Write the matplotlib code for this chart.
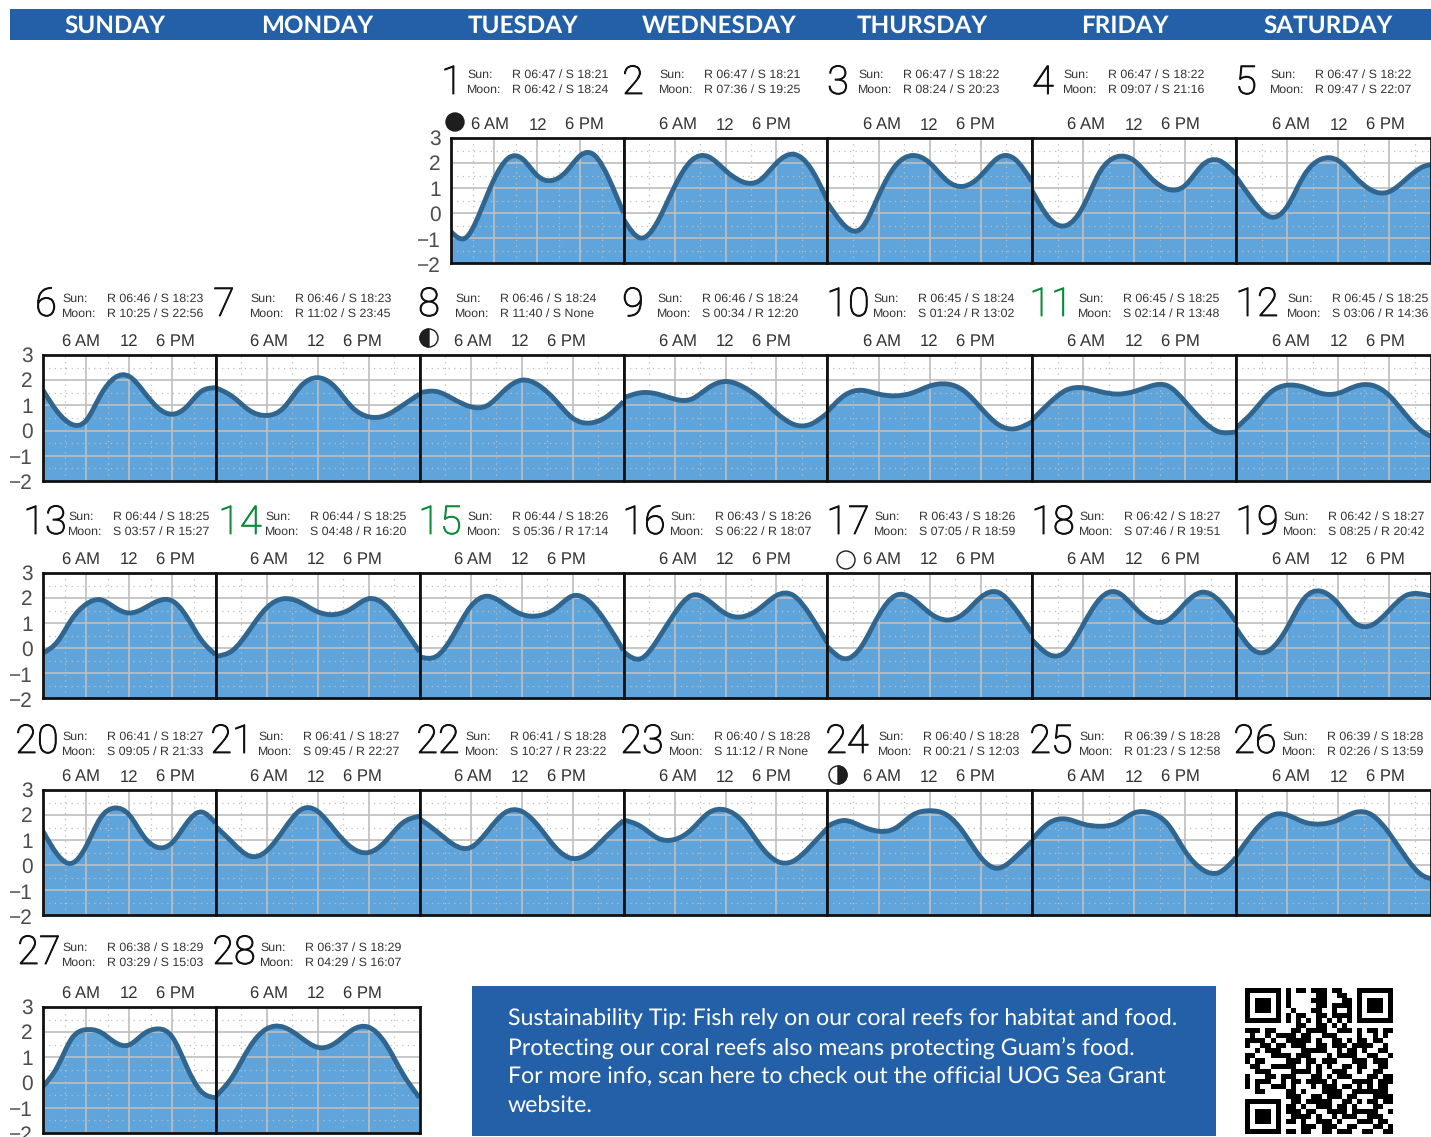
"""
Calendario de mareas de Guam (febrero): paneles por dia con curva de marea,
datos de sol/luna, consejo de sustentabilidad y codigo QR.
"""

import matplotlib
matplotlib.use('Agg')
import matplotlib.patheffects as pe
import matplotlib.pyplot as plt
import numpy as np
from matplotlib.patches import Circle, PathPatch, Rectangle, Wedge
from matplotlib.path import Path

# ============================================================================
# DATOS
# ============================================================================

weekdays = ['SUNDAY', 'MONDAY', 'TUESDAY', 'WEDNESDAY', 'THURSDAY', 'FRIDAY', 'SATURDAY']

# Altura de marea cada 2 horas (0h a 24h), un renglon por dia
tide_row1 = [
    [-0.75, -1.0, 0.0, 1.35, 2.2, 2.15, 1.5, 1.3, 1.65, 2.3, 2.3, 1.35, 0.0],
    [-0.25, -1.0, -0.35, 1.05, 2.1, 2.25, 1.7, 1.25, 1.3, 2.0, 2.35, 1.8, 0.5],
    [0.4, -0.5, -0.6, 0.7, 1.9, 2.3, 2.0, 1.3, 1.07, 1.5, 2.2, 2.15, 1.25],
    [0.9, -0.2, -0.5, 0.25, 1.65, 2.25, 2.1, 1.4, 0.95, 1.1, 1.9, 2.1, 1.55],
    [1.45, 0.5, -0.15, 0.25, 1.5, 2.15, 2.1, 1.45, 0.9, 0.85, 1.35, 1.85, 1.95],
]
tide_row2 = [
    [1.6, 0.75, 0.25, 0.4, 1.4, 2.1, 2.15, 1.55, 0.9, 0.65, 0.95, 1.55, 1.7],
    [1.7, 1.35, 0.8, 0.6, 0.9, 1.75, 2.1, 1.75, 0.95, 0.55, 0.6, 1.0, 1.45],
    [1.5, 1.55, 1.25, 0.95, 1.0, 1.6, 2.0, 1.8, 1.2, 0.5, 0.3, 0.55, 1.15],
    [1.3, 1.5, 1.45, 1.25, 1.25, 1.7, 1.95, 1.75, 1.3, 0.7, 0.25, 0.25, 0.7],
    [0.75, 1.4, 1.6, 1.45, 1.38, 1.5, 1.77, 1.85, 1.58, 0.9, 0.25, 0.07, 0.35],
    [0.42, 1.08, 1.6, 1.7, 1.55, 1.45, 1.55, 1.77, 1.77, 1.15, 0.42, -0.05, -0.05],
    [0.1, 0.75, 1.5, 1.8, 1.72, 1.48, 1.48, 1.75, 1.8, 1.4, 0.62, -0.05, -0.35],
]
tide_row3 = [
    [-0.2, 0.25, 1.15, 1.75, 1.93, 1.62, 1.4, 1.58, 1.88, 1.88, 1.25, 0.33, -0.26],
    [-0.33, -0.1, 0.72, 1.6, 1.97, 1.82, 1.45, 1.34, 1.58, 1.97, 1.7, 0.85, -0.15],
    [-0.35, -0.33, 0.53, 1.65, 2.07, 1.75, 1.35, 1.29, 1.58, 2.08, 1.85, 1.0, -0.1],
    [-0.15, -0.43, 0.33, 1.38, 2.1, 1.9, 1.38, 1.25, 1.58, 2.1, 2.1, 1.3, 0.2],
    [0.05, -0.43, 0.07, 1.3, 2.1, 1.97, 1.4, 1.12, 1.38, 2.03, 2.23, 1.58, 0.6],
    [0.33, -0.26, -0.13, 0.92, 1.97, 2.23, 1.65, 1.1, 1.12, 1.78, 2.23, 1.9, 1.05],
    [0.8, -0.07, -0.07, 0.8, 1.97, 2.27, 1.78, 1.0, 0.92, 1.5, 2.1, 2.15, 2.0],
]
tide_row4 = [
    [1.35, 0.42, 0.07, 0.75, 1.88, 2.28, 2.0, 1.15, 0.7, 0.9, 1.68, 2.12, 1.68],
    [1.55, 0.9, 0.36, 0.56, 1.4, 2.2, 2.15, 1.4, 0.7, 0.5, 0.95, 1.68, 1.95],
    [1.85, 1.35, 0.82, 0.7, 1.35, 2.08, 2.15, 1.55, 0.7, 0.26, 0.5, 1.15, 1.78],
    [1.8, 1.55, 1.08, 1.02, 1.42, 2.08, 2.2, 1.75, 0.82, 0.16, 0.16, 0.75, 1.48],
    [1.55, 1.78, 1.55, 1.35, 1.48, 2.0, 2.17, 2.0, 1.28, 0.3, -0.13, 0.3, 0.95],
    [1.02, 1.68, 1.84, 1.64, 1.55, 1.68, 2.08, 2.08, 1.62, 0.56, -0.17, -0.3, 0.3],
    [0.36, 1.28, 1.95, 2.0, 1.72, 1.64, 1.8, 2.1, 2.0, 1.28, 0.3, -0.43, -0.55],
]
tide_row5 = [
    [-0.15, 0.63, 1.75, 2.1, 2.0, 1.6, 1.5, 1.93, 2.13, 1.8, 0.63, -0.35, -0.6],
    [-0.55, 0.24, 1.4, 2.13, 2.2, 1.8, 1.4, 1.55, 2.07, 2.2, 1.55, 0.37, -0.6],
]
tide_hours = np.arange(0, 25, 2)

y_labels = ['3', '2', '1', '0', '\u22121', '\u22122']
hour_labels = ['6 AM', '12', '6 PM']

sun_times = [
    'R 06:47 / S 18:21', 'R 06:47 / S 18:21', 'R 06:47 / S 18:22', 'R 06:47 / S 18:22',
    'R 06:47 / S 18:22', 'R 06:46 / S 18:23', 'R 06:46 / S 18:23', 'R 06:46 / S 18:24',
    'R 06:46 / S 18:24', 'R 06:45 / S 18:24', 'R 06:45 / S 18:25', 'R 06:45 / S 18:25',
    'R 06:44 / S 18:25', 'R 06:44 / S 18:25', 'R 06:44 / S 18:26', 'R 06:43 / S 18:26',
    'R 06:43 / S 18:26', 'R 06:42 / S 18:27', 'R 06:42 / S 18:27', 'R 06:41 / S 18:27',
    'R 06:41 / S 18:27', 'R 06:41 / S 18:28', 'R 06:40 / S 18:28', 'R 06:40 / S 18:28',
    'R 06:39 / S 18:28', 'R 06:39 / S 18:28', 'R 06:38 / S 18:29', 'R 06:37 / S 18:29',
]
moon_times = [
    'R 06:42 / S 18:24', 'R 07:36 / S 19:25', 'R 08:24 / S 20:23', 'R 09:07 / S 21:16',
    'R 09:47 / S 22:07', 'R 10:25 / S 22:56', 'R 11:02 / S 23:45', 'R 11:40 / S None',
    'S 00:34 / R 12:20', 'S 01:24 / R 13:02', 'S 02:14 / R 13:48', 'S 03:06 / R 14:36',
    'S 03:57 / R 15:27', 'S 04:48 / R 16:20', 'S 05:36 / R 17:14', 'S 06:22 / R 18:07',
    'S 07:05 / R 18:59', 'S 07:46 / R 19:51', 'S 08:25 / R 20:42', 'S 09:05 / R 21:33',
    'S 09:45 / R 22:27', 'S 10:27 / R 23:22', 'S 11:12 / R None', 'R 00:21 / S 12:03',
    'R 01:23 / S 12:58', 'R 02:26 / S 13:59', 'R 03:29 / S 15:03', 'R 04:29 / S 16:07',
]
green_days = [11, 14, 15]

tip_lines = [
    'Sustainability Tip: Fish rely on our coral reefs for habitat and food.',
    'Protecting our coral reefs also means protecting Guam\u2019s food.',
    'For more info, scan here to check out the official UOG Sea Grant',
    'website.',
]

qr_rows = [
    '11111110101101110110001111111',
    '10000010100000110011001000001',
    '10111010100001110001101011101',
    '10111010100000110111101011101',
    '10111010010001100100101011101',
    '10000010101100110111101000001',
    '11111110101010101010101111111',
    '00000000001100110101000000000',
    '11101100011011110011101011011',
    '01001011110110011100001001010',
    '11110100111110100110101101100',
    '10011011011100110111011110010',
    '00101110000111110010110100110',
    '11000111101110001011110011001',
    '10110000111011011100011101110',
    '01100111110010101001101100110',
    '00111000011110100111001001100',
    '10001101110001101011100011011',
    '10111001011011110100011110111',
    '10100111010001011101101010110',
    '00110000110100011110011111110',
    '00000000111001101110110001111',
    '11111110011011111001101011011',
    '10000010110100111011010001100',
    '10111010111011001111011111001',
    '10111010011110100101110011100',
    '10111010110100111010001110110',
    '10000010000111011100110001101',
    '11111110110110011011100110011',
]

# ============================================================================
# POSICIONES (pixeles de la imagen)
# ============================================================================

row_tops = [138, 355, 573, 790, 1007]
row_bottoms = [263, 481, 698, 915, 1133]
col_edges = [43, 215.5, 419.5, 623.5, 827.5, 1032, 1236, 1431]
hour_offsets = [38, 53, 53, 54, 54, 54, 55]  # centro de "6 AM" desde el borde del panel
first_col = 2  # el dia 1 cae en martes

header_x = [115, 317, 523, 719, 922, 1125, 1328]
number_x = [452, 633, 838, 1043, 1246,
            46, 224, 429, 633, 848, 1051, 1257,
            45, 240, 440, 644, 848, 1053, 1257,
            37, 232, 438, 642, 847, 1051, 1255,
            39, 234]
label_x = [467, 659, 858, 1063, 1270,
           62, 250, 455, 657, 873, 1078, 1287,
           68, 265, 467, 670, 874, 1079, 1283,
           62, 258, 465, 669, 878, 1079, 1282,
           62, 260]
number_y = [83, 305, 523, 742, 953]
label_y = [75, 299, 517, 737, 948]

W, H = 1431, 1137
BLUE = '#2460A8'
FILL = '#5FA5DB'
CURVE = '#2F658F'
GRID = '#BEBEBE'
TEXT = '#333333'

plt.rcParams['font.family'] = ['Liberation Sans', 'DejaVu Sans']
plt.rcParams['text.hinting'] = 'none'


def curve_path(hours, values):
    """Curva suave que pasa por las lecturas, con segmentos bezier"""
    hours = np.asarray(hours, dtype=float)
    values = np.asarray(values, dtype=float)
    n = len(hours)
    step = hours[1] - hours[0]

    # Pendientes de spline natural (espaciado uniforme)
    matrix = np.zeros((n, n))
    rhs = np.zeros(n)
    matrix[0, :2] = [2, 1]
    matrix[-1, -2:] = [1, 2]
    rhs[0] = 3 * (values[1] - values[0]) / step
    rhs[-1] = 3 * (values[-1] - values[-2]) / step
    for i in range(1, n - 1):
        matrix[i, i - 1:i + 2] = [1, 4, 1]
        rhs[i] = 3 * (values[i + 1] - values[i - 1]) / step
    slopes = np.linalg.solve(matrix, rhs)

    vertices = [(hours[0], values[0])]
    codes = [Path.MOVETO]
    for i in range(n - 1):
        third = step / 3
        vertices.append((hours[i] + third, values[i] + slopes[i] * third))
        vertices.append((hours[i + 1] - third, values[i + 1] - slopes[i + 1] * third))
        vertices.append((hours[i + 1], values[i + 1]))
        codes += [Path.CURVE4] * 3
    return vertices, codes


def draw_day(fig, x0, x1, top, bottom, values, max_hour):
    ax = fig.add_axes([x0 / W, 1 - bottom / H, (x1 - x0) / W, (bottom - top) / H])
    ax.set_xlim(0, max_hour)
    ax.set_ylim(-2, 3)

    vertices, codes = curve_path(tide_hours, values)
    area = Path(vertices + [(24, -2), (0, -2), (0, values[0])],
                codes + [Path.LINETO, Path.LINETO, Path.LINETO])
    ax.add_patch(PathPatch(area, facecolor=FILL, edgecolor='none', zorder=1))
    ax.add_patch(PathPatch(Path(vertices, codes), fill=False, edgecolor=CURVE,
                           linewidth=3.5, zorder=3))

    ax.set_xticks([6, 12, 18])
    ax.set_xticks([3, 9, 15, 21], minor=True)
    ax.set_yticks([-1, 0, 1, 2])
    ax.set_yticks([-1.5, -0.5, 0.5, 1.5, 2.5], minor=True)
    ax.set_axisbelow(False)
    ax.grid(True, which='major', color=GRID, linewidth=1.2, zorder=2)
    ax.grid(True, which='minor', color=GRID, linewidth=0.9, linestyle=(0, (1, 3.5)), zorder=2)
    ax.tick_params(which='both', length=0, labelbottom=False, labelleft=False)
    for side in ax.spines.values():
        side.set_linewidth(2.0)
        side.set_color('#111111')
        side.set_zorder(4)
    return ax


def main():
    fig = plt.figure(figsize=(W / 100, H / 100), dpi=100, facecolor='white')

    # Capa en pixeles para textos, bandas, iconos y QR
    page = fig.add_axes([0, 0, 1, 1])
    page.set_xlim(0, W)
    page.set_ylim(H, 0)
    page.axis('off')

    page.add_patch(Rectangle((10, 9), W - 10, 31, facecolor=BLUE, edgecolor='none'))
    for name, x in zip(weekdays, header_x):
        page.text(x, 26, name, color='white', fontsize=17.5, family='Lato', weight='bold',
                  ha='center', va='center')

    # Paneles de marea
    all_rows = [tide_row1, tide_row2, tide_row3, tide_row4, tide_row5]
    day = 0
    for r, row in enumerate(all_rows):
        start = first_col if r == 0 else 0
        for c, values in enumerate(row):
            col = start + c
            x0 = 451 if (r == 0 and c == 0) else col_edges[col]
            x1 = col_edges[col + 1]
            max_hour = 24 * (x1 - x0) / 204 if col == 6 else 24
            draw_day(fig, x0, x1, row_tops[r], row_bottoms[r], values, max_hour)

            # Escala vertical del primer panel de cada fila
            if c == 0:
                for k, label in enumerate(y_labels):
                    page.text(x0 - 10, row_tops[r] + 1 + k * 25.6, label, color='#4D4D4D',
                              fontsize=15, ha='right', va='center')

            # Horas sobre el panel: separacion fija, no sigue la rejilla
            offset = 39 if (r == 0 and c == 0) else hour_offsets[col]
            for label, dx in zip(hour_labels, [0, 47.5, 94]):
                page.text(x0 + offset + dx, row_tops[r] - 8.5, label, color=TEXT,
                          fontsize=12, ha='center', va='baseline')

            # Numero de dia y datos de sol y luna
            color = '#0E8A3C' if day + 1 in green_days else '#111111'
            number = page.text(number_x[day], number_y[r], str(day + 1), color=color, fontsize=28.5,
                               family='Roboto', weight='light', ha='center', va='center')
            number.set_path_effects([pe.withStroke(linewidth=0.7, foreground=color)])
            page.text(label_x[day], label_y[r], 'Sun:', color=TEXT, fontsize=8.95, va='center')
            page.text(label_x[day], label_y[r] + 15, 'Moon:', color=TEXT, fontsize=8.95, va='center')
            page.text(label_x[day] + 45, label_y[r], sun_times[day], color=TEXT, fontsize=8.95, va='center')
            page.text(label_x[day] + 45, label_y[r] + 15, moon_times[day], color=TEXT, fontsize=8.95, va='center')
            day += 1

    # Fases de la luna
    dark = '#1E1E1E'
    page.add_patch(Circle((455, 122), 9, facecolor=dark, edgecolor=dark))
    page.add_patch(Circle((429, 338), 9, facecolor='white', edgecolor=dark, linewidth=1))
    page.add_patch(Wedge((429, 338), 9, 90, 270, facecolor=dark, edgecolor=dark))
    page.add_patch(Circle((846, 560), 9, facecolor='white', edgecolor=dark, linewidth=1))
    page.add_patch(Circle((838, 775), 9, facecolor='white', edgecolor=dark, linewidth=1))
    page.add_patch(Wedge((838, 775), 9, -90, 90, facecolor=dark, edgecolor=dark))

    # Recuadro del consejo
    page.add_patch(Rectangle((472, 986), 744, 150, facecolor=BLUE, edgecolor='none'))
    for line, y in zip(tip_lines, [1019, 1048, 1077, 1106]):
        page.text(508, y, line, color='white', fontsize=16.7, family='Lato', va='center')

    # Codigo QR
    qr = np.array([[int(ch) for ch in row] for row in qr_rows])
    page.imshow(1 - qr, cmap='gray', vmin=0, vmax=1, interpolation='nearest',
                extent=(1245, 1393, 1134, 988), aspect='auto', zorder=2)
    page.set_xlim(0, W)
    page.set_ylim(H, 0)

    fig.savefig('out.png', dpi=100)
    plt.close(fig)


if __name__ == "__main__":
    main()
